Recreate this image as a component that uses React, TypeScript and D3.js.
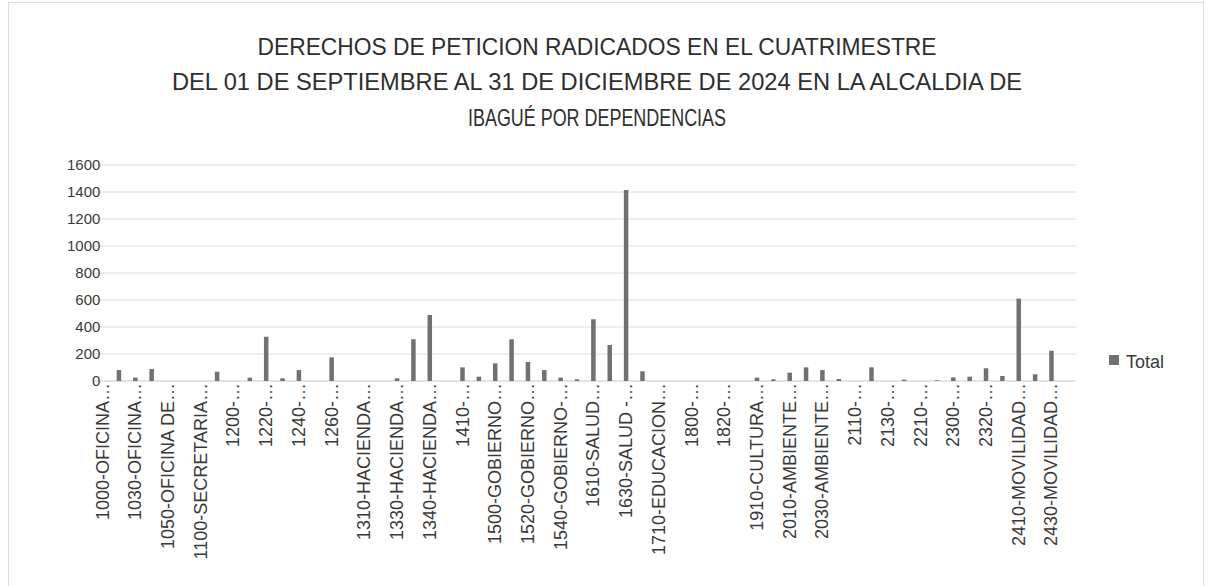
import React, { useEffect, useRef } from "react";
import * as d3 from "d3";

const titleLines = [
  "DERECHOS DE PETICION RADICADOS EN EL CUATRIMESTRE",
  "DEL 01 DE SEPTIEMBRE AL 31 DE DICIEMBRE DE 2024 EN LA ALCALDIA DE",
  "IBAGUÉ POR DEPENDENCIAS",
];

// dependencias (solo se ve una de cada dos etiquetas, como en Excel)
const categories = [
  "1000-OFICINA…", "1010-OFICINA…", "1030-OFICINA…", "1040-OFICINA…",
  "1050-OFICINA DE…", "1060-OFICINA…", "1100-SECRETARIA…", "1110-SECRETARIA…",
  "1200-…", "1210-…", "1220-…", "1230-…",
  "1240-…", "1250-…", "1260-…", "1300-HACIENDA…",
  "1310-HACIENDA…", "1320-HACIENDA…", "1330-HACIENDA…", "1335-HACIENDA…",
  "1340-HACIENDA…", "1400-…", "1410-…", "1420-…",
  "1500-GOBIERNO…", "1510-GOBIERNO…", "1520-GOBIERNO…", "1530-GOBIERNO…",
  "1540-GOBIERNO-…", "1600-SALUD…", "1610-SALUD…", "1620-SALUD…",
  "1630-SALUD -…", "1700-EDUCACION…", "1710-EDUCACION…", "1720-EDUCACION…",
  "1800-…", "1810-…", "1820-…", "1900-CULTURA…",
  "1910-CULTURA…", "2000-AMBIENTE…", "2010-AMBIENTE…", "2020-AMBIENTE…",
  "2030-AMBIENTE…", "2100-…", "2110-…", "2120-…",
  "2130-…", "2200-…", "2210-…", "2220-…",
  "2300-…", "2310-…", "2320-…", "2400-MOVILIDAD…",
  "2410-MOVILIDAD…", "2420-MOVILIDAD…", "2430-MOVILIDAD…", "2440-MOVILIDAD…",
];

const totals = [
  0, 81, 25, 89, 0, 0, 0, 69,
  0, 25, 328, 20, 81, 0, 175, 0,
  0, 0, 20, 309, 489, 0, 101, 32,
  131, 309, 141, 81, 25, 12, 457, 267,
  1415, 72, 0, 0, 0, 0, 0, 0,
  25, 12, 62, 101, 81, 15, 0, 101,
  0, 10, 0, 5, 27, 32, 94, 37,
  610, 50, 224, 0,
];

const yTicks = [0, 200, 400, 600, 800, 1000, 1200, 1400, 1600];

const Chart = () => {
  const svgRef = useRef(null);

  useEffect(() => {
    const W = 1210, H = 586;
    const plot = { left: 94.4, right: 1076, top: 165, bottom: 381 };
    const font = "'Liberation Sans', Arial, sans-serif";

    const svg = d3.select(svgRef.current);
    svg.selectAll("*").remove();
    svg.attr("width", W).attr("height", H);

    svg.append("rect").attr("width", W).attr("height", H).attr("fill", "#fff");
    // borde del grafico
    svg
      .append("rect")
      .attr("x", 8.5)
      .attr("y", 2.5)
      .attr("width", 1195)
      .attr("height", 590)
      .attr("fill", "none")
      .attr("stroke", "#dedede");

    // titulo (fuente estrecha tipo Calibri, se ajusta al ancho del original)
    const titleY = [55, 90, 126];
    const titleLen = [679, 850, 258];
    titleLines.forEach((t, i) => {
      svg
        .append("text")
        .attr("x", 597)
        .attr("y", titleY[i])
        .attr("text-anchor", "middle")
        .attr("font-family", font)
        .attr("font-size", 24)
        .attr("fill", "#2e2e2e")
        .attr("textLength", titleLen[i])
        .attr("lengthAdjust", "spacingAndGlyphs")
        .text(t);
    });

    const x = d3
      .scaleBand()
      .domain(categories.map((c, i) => String(i)))
      .range([plot.left, plot.right]);
    const y = d3.scaleLinear([0, 1600], [plot.bottom, plot.top]);

    // lineas de division
    svg
      .append("g")
      .selectAll("line")
      .data(yTicks)
      .join("line")
      .attr("x1", plot.left)
      .attr("x2", plot.right)
      .attr("y1", (d) => y(d))
      .attr("y2", (d) => y(d))
      .attr("stroke", (d) => (d === 0 ? "#c8c8c8" : "#dcdcdc"))
      .attr("stroke-width", 1);

    const yAxis = d3
      .axisLeft(y)
      .tickValues(yTicks)
      .tickFormat(d3.format("d"))
      .tickSize(0)
      .tickPadding(0);
    const gy = svg
      .append("g")
      .attr("transform", `translate(${plot.left + 6},0)`)
      .call(yAxis);
    gy.select(".domain").remove();
    gy.selectAll("text")
      .attr("font-family", font)
      .attr("font-size", 15)
      .attr("fill", "#3a3a3a");

    // barras
    const barW = 4.5;
    svg
      .append("g")
      .selectAll("rect")
      .data(totals)
      .join("rect")
      .attr("x", (d, i) => x(String(i)) + x.bandwidth() / 2 - barW / 2)
      .attr("y", (d) => y(d))
      .attr("width", barW)
      .attr("height", (d) => y(0) - y(d))
      .attr("fill", "#717171");

    // etiquetas del eje x (una de cada dos)
    svg
      .append("g")
      .selectAll("text")
      .data(categories.filter((c, i) => i % 2 === 0))
      .join("text")
      .attr(
        "transform",
        (d, i) =>
          `translate(${x(String(i * 2)) + x.bandwidth() / 2 + 6},383) rotate(-90)`
      )
      .attr("text-anchor", "end")
      .attr("font-family", font)
      .attr("font-size", 18)
      .attr("fill", "#3a3a3a")
      .text((d) => d);

    // leyenda
    svg
      .append("rect")
      .attr("x", 1109)
      .attr("y", 355)
      .attr("width", 10)
      .attr("height", 10)
      .attr("fill", "#717171");
    svg
      .append("text")
      .attr("x", 1126)
      .attr("y", 368)
      .attr("font-family", font)
      .attr("font-size", 18)
      .attr("fill", "#3a3a3a")
      .text("Total");
  }, []);

  return <svg ref={svgRef} style={{ position: "absolute", left: 0, top: 0 }}></svg>;
};

export default function App() {
  return <Chart />;
}
